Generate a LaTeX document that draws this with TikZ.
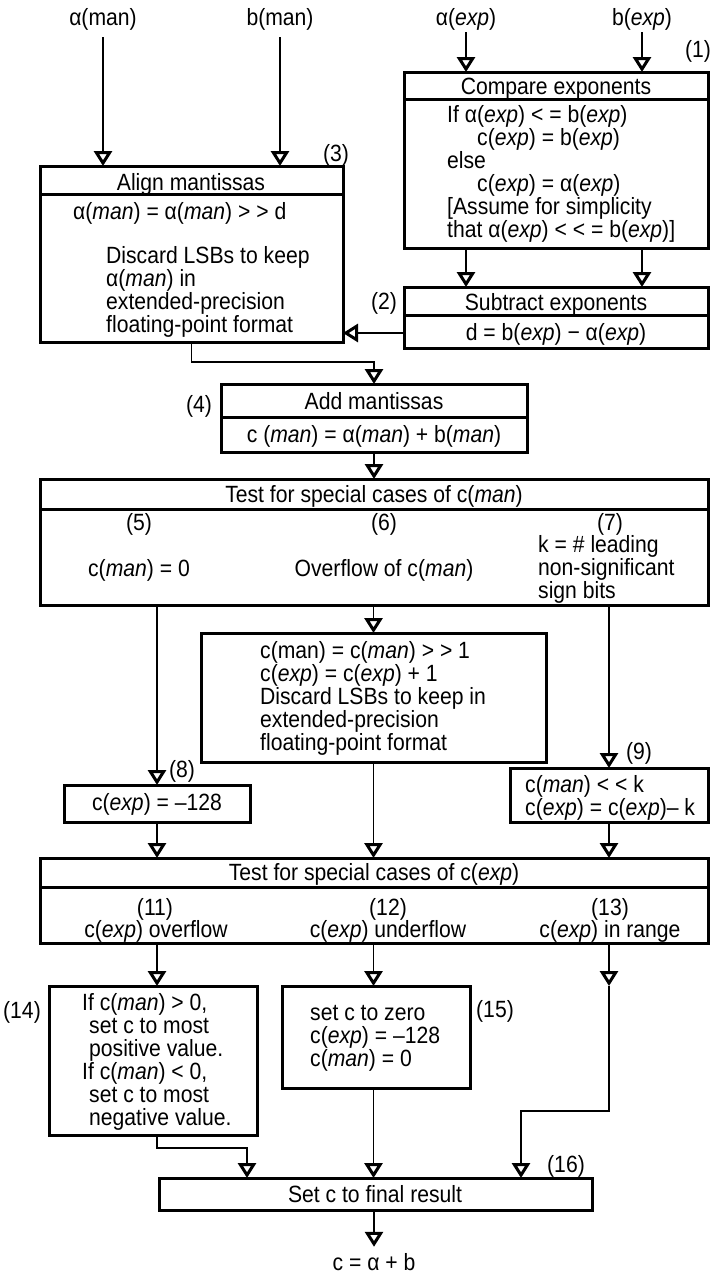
\documentclass[tikz,border=0pt]{standalone}
\usepackage{fontspec}
\setmainfont{Liberation Sans}[FakeStretch=0.9]
\usetikzlibrary{arrows.meta}
\newcommand\diagfont{\fontsize{23.5}{23}\selectfont}
\newcommand\ixp{\textit{exp}}
\newcommand\iman{\textit{man}}
\begin{document}
\begin{tikzpicture}[x=1pt,y=-1pt,
  box/.style={draw, line width=3pt, outer sep=0pt, inner sep=0pt},
  rule/.style={line width=3pt},
  txt/.style={inner sep=0pt, font=\diagfont, align=left},
  arr/.style={line width=1.6pt, -{Triangle[open,width=18pt,length=15pt,line width=3pt]}}]
\useasboundingbox[fill=white] (0,0) rectangle (712,1282);

% ---- input labels
\node[txt, anchor=base] (aman) at (103,25) {α(man)};
\node[txt, anchor=base] (bman) at (280,25) {b(man)};
\node[txt, anchor=base] (aexp) at (466,25) {α(\ixp)};
\node[txt, anchor=base] (bexp) at (642,25) {b(\ixp)};

% ---- boxes
\node[box, minimum width=304pt, minimum height=176pt] (cmp) at (556,160) {};
\node[box, minimum width=304pt, minimum height=61pt] (sub) at (556,317.5) {};
\node[box, minimum width=303pt, minimum height=176pt] (align) at (191.5,254) {};
\node[box, minimum width=306pt, minimum height=68pt] (add) at (374,418) {};
\node[box, minimum width=668pt, minimum height=126pt] (t1) at (374,542) {};
\node[box, minimum width=345pt, minimum height=129pt] (mid) at (373.5,697.5) {};
\node[box, minimum width=186pt, minimum height=37pt] (b8) at (157,803.5) {};
\node[box, minimum width=198pt, minimum height=54pt] (b9) at (609,795) {};
\node[box, minimum width=668pt, minimum height=85pt] (t2) at (374,900.5) {};
\node[box, minimum width=208pt, minimum height=149pt] (b14) at (153,1060.5) {};
\node[box, minimum width=188pt, minimum height=102pt] (b15) at (376,1037) {};
\node[box, minimum width=433pt, minimum height=32pt] (b16) at (375.5,1194) {};

% ---- title dividers
\draw[rule] ([yshift=-27pt]cmp.north west) -- ([yshift=-27pt]cmp.north east);
\draw[rule] ([yshift=-28pt]sub.north west) -- ([yshift=-28pt]sub.north east);
\draw[rule] ([yshift=-28pt]align.north west) -- ([yshift=-28pt]align.north east);
\draw[rule] ([yshift=-33pt]add.north west) -- ([yshift=-33pt]add.north east);
\draw[rule] ([yshift=-30pt]t1.north west) -- ([yshift=-30pt]t1.north east);
\draw[rule] ([yshift=-29pt]t2.north west) -- ([yshift=-29pt]t2.north east);

% ---- box texts (multi-line blocks are placed by their last baseline)
\node[txt, anchor=base] (cmpT) at (556,94) {Compare exponents};
\node[txt, anchor=base west] (cmpB) at (447,237) {If α(\ixp) < = b(\ixp)\\
  \hspace*{30pt}c(\ixp) = b(\ixp)\\
  else\\
  \hspace*{30pt}c(\ixp) = α(\ixp)\\
  {[}Assume for simplicity\\
  that α(\ixp) < < = b(\ixp)]};

\node[txt, anchor=base] (subT) at (556,310) {Subtract exponents};
\node[txt, anchor=base] (subB) at (556,340) {d = b(\ixp) − α(\ixp)};

\node[txt, anchor=base] (alT) at (191,190) {Align mantissas};
\node[txt, anchor=base west] (alB1) at (73,219) {α(\iman) = α(\iman) > > d};
\node[txt, anchor=base west] (alB2) at (106,332) {Discard LSBs to keep\\
  α(\iman) in\\
  extended-precision\\
  floating-point format};

\node[txt, anchor=base] (addT) at (374,409) {Add mantissas};
\node[txt, anchor=base] (addB) at (374,442) {c (\iman) = α(\iman) + b(\iman)};

\node[txt, anchor=base] (t1T) at (374,502) {Test for special cases of c(\iman)};
\node[txt, anchor=base] (n5) at (139,530) {(5)};
\node[txt, anchor=base] (n6) at (384,530) {(6)};
\node[txt, anchor=base] (n7) at (610,530) {(7)};
\node[txt, anchor=base] (c5) at (139,576) {c(\iman) = 0};
\node[txt, anchor=base] (c6) at (384,576) {Overflow of c(\iman)};
\node[txt, anchor=base west] (c7) at (538,598) {k = \# leading\\
  non-significant\\
  sign bits};

\node[txt, anchor=base west] (midB) at (260,750) {c(man) = c(\iman) > > 1\\
  c(\ixp) = c(\ixp) + 1\\
  Discard LSBs to keep in\\
  extended-precision\\
  floating-point format};

\node[txt, anchor=base] (b8B) at (157,810) {c(\ixp) = –128};
\node[txt, anchor=base west] (b9B) at (525,815) {c(\iman) < < k\\
  c(\ixp) = c(\ixp)– k};

\node[txt, anchor=base] (t2T) at (374,880) {Test for special cases of c(\ixp)};
\node[txt, anchor=base] (n11) at (155,915) {(11)};
\node[txt, anchor=base] (n12) at (388,915) {(12)};
\node[txt, anchor=base] (n13) at (610,915) {(13)};
\node[txt, anchor=base] (c11) at (156,937) {c(\ixp) overflow};
\node[txt, anchor=base] (c12) at (388,937) {c(\ixp) underflow};
\node[txt, anchor=base] (c13t) at (610,937) {c(\ixp) in range};

\node[txt, anchor=base west] (b14B) at (82,1125) {If c(\iman) > 0,\\
  \hspace*{7pt}set c to most\\
  \hspace*{7pt}positive value.\\
  If c(\iman) < 0,\\
  \hspace*{7pt}set c to most\\
  \hspace*{7pt}negative value.};
\node[txt, anchor=base west] (b15B) at (310,1066) {set c to zero\\
  c(\ixp) = –128\\
  c(\iman) = 0};
\node[txt, anchor=base] (b16B) at (375,1202) {Set c to final result};
\node[txt, anchor=base] (out) at (374,1270) {c = α + b};

% ---- step numbers
\node[txt, anchor=base] (n1) at (698,57) {(1)};
\node[txt, anchor=base] (n2) at (384,309) {(2)};
\node[txt, anchor=base] (n3) at (336,161) {(3)};
\node[txt, anchor=base] (n4) at (199,412) {(4)};
\node[txt, anchor=base] (n8) at (182,777) {(8)};
\node[txt, anchor=base] (n9) at (639,759) {(9)};
\node[txt, anchor=base] (n14) at (22,1018) {(14)};
\node[txt, anchor=base] (n15) at (495,1017) {(15)};
\node[txt, anchor=base] (n16) at (566,1172) {(16)};

% ---- junction points
\coordinate (j0) at ([yshift=-15.5pt]sub.west);
\coordinate (j1) at (374,362);
\coordinate (c13) at (609,986);
\coordinate (j3) at (521,1111);
\coordinate (j2) at (247,1148);

% ---- connectors
\draw[arr, shorten <=7pt] (aman.south) -- (align.north -| aman);
\draw[arr, shorten <=7pt] (bman.south) -- (align.north -| bman);
\draw[arr, shorten <=2pt] (aexp.south) -- (cmp.north -| aexp);
\draw[arr, shorten <=2pt] (bexp.south) -- (cmp.north -| bexp);
\draw[arr] (cmp.south -| aexp) -- (sub.north -| aexp);
\draw[arr] (cmp.south -| bexp) -- (sub.north -| bexp);
\draw[arr] (j0) -- (align.east |- j0);
\draw[arr] (align.south) |- (j1) -- (add.north);
\draw[arr] (add.south) -- (t1.north -| add);
\draw[arr] (t1.south -| b8) -- (b8.north);
\draw[arr] (t1.south -| mid) -- (mid.north);
\draw[arr] (t1.south -| b9) -- (b9.north);
\draw[arr] (b8.south) -- (t2.north -| b8);
\draw[arr] (mid.south) -- (t2.north -| mid);
\draw[arr] (b9.south) -- (t2.north -| b9);
\draw[arr] (t2.south -| b8) -- (b14.north -| b8);
\draw[arr] (t2.south -| mid) -- (b15.north -| mid);
\draw[arr] (t2.south -| c13) -- (c13);
\draw[arr] (c13) |- (j3) -- (b16.north -| j3);
\draw[arr] (b14.south -| b8) |- (j2) -- (b16.north -| j2);
\draw[arr] (b15.south -| mid) -- (b16.north -| mid);
\draw[arr, shorten >=6pt] (b16.south -| out) -- (out.north);
\end{tikzpicture}
\end{document}
